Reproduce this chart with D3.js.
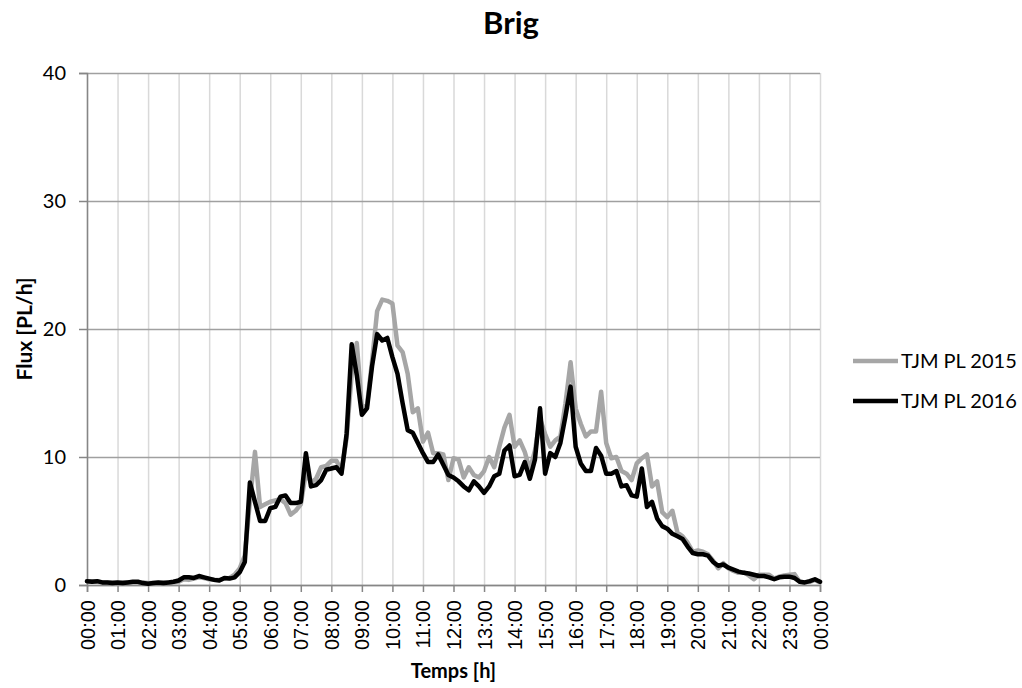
<!DOCTYPE html>
<html>
<head>
<meta charset="utf-8">
<script src="https://cdn.jsdelivr.net/npm/d3@7"></script>
<style>
  html, body { margin: 0; padding: 0; background: #fff; }
  svg { display: block; }
</style>
</head>
<body>
<svg id="chart" width="1022" height="688"></svg>
<script>
// Heavy-goods vehicle flow at Brig, average weekday, 10-minute steps from 00:00 to 24:00
const minutes = d3.range(0, 1441, 10);

const tjm2015 = [
  0.3, 0.3, 0.25, 0.2, 0.2, 0.2,
  0.15, 0.2, 0.2, 0.2, 0.2, 0.2,
  0.15, 0.15, 0.15, 0.2, 0.15, 0.2,
  0.25, 0.45, 0.4, 0.5, 0.6, 0.55,
  0.45, 0.4, 0.4, 0.5, 0.55, 0.8,
  1.3, 2.3, 6.5, 10.4, 6.1, 6.3,
  6.5, 6.6, 6.7, 6.4, 5.5, 5.8,
  6.3, 8.8, 8.0, 8.3, 9.2, 9.3,
  9.7, 9.7, 8.9, 11.5, 16.5, 18.9,
  13.9, 14.0, 17.5, 21.4, 22.3, 22.2,
  22.0, 18.7, 18.2, 16.5, 13.5, 13.8,
  11.2, 11.9, 10.3, 10.3, 10.2, 8.2,
  9.9, 9.8, 8.4, 9.2, 8.6, 8.4,
  8.9, 10.0, 9.2, 10.8, 12.3, 13.3,
  10.8, 11.3, 10.4, 9.0, 10.5, 13.0,
  11.8, 10.8, 11.3, 11.6, 14.2, 17.4,
  13.8, 12.6, 11.6, 12.0, 12.0, 15.1,
  11.1, 9.9, 10.0, 8.9, 8.7, 8.2,
  9.5, 9.9, 10.2, 7.7, 8.1, 5.7,
  5.3, 5.8, 4.1, 3.8, 3.3, 2.6,
  2.7, 2.6, 2.4, 1.9, 1.3, 1.7,
  1.3, 1.1, 0.95, 1.0, 0.75, 0.45,
  0.8, 0.8, 0.8, 0.5, 0.65, 0.75,
  0.8, 0.85, 0.25, 0.2, 0.25, 0.4,
  0.2
];

const tjm2016 = [
  0.3, 0.25, 0.3, 0.2, 0.2, 0.15,
  0.2, 0.15, 0.2, 0.25, 0.25, 0.15,
  0.1, 0.15, 0.2, 0.15, 0.2, 0.25,
  0.35, 0.6, 0.6, 0.55, 0.7, 0.6,
  0.5, 0.4, 0.35, 0.55, 0.5, 0.6,
  1.0, 1.8, 8.0, 6.5, 5.0, 5.0,
  6.0, 6.1, 6.9, 7.0, 6.4, 6.4,
  6.5, 10.3, 7.7, 7.8, 8.2, 9.0,
  9.1, 9.2, 8.7, 11.8, 18.8, 16.4,
  13.3, 13.8, 17.1, 19.6, 19.1, 19.3,
  17.8, 16.5, 14.2, 12.1, 11.9, 11.1,
  10.3, 9.6, 9.6, 10.2, 9.4, 8.6,
  8.4, 8.1, 7.7, 7.4, 8.1, 7.7,
  7.2, 7.7, 8.5, 8.7, 10.5, 10.9,
  8.5, 8.6, 9.6, 8.3, 9.8, 13.8,
  8.7, 10.3, 10.0, 11.1, 13.2, 15.5,
  10.8, 9.5, 8.9, 8.9, 10.7, 10.1,
  8.7, 8.7, 8.9, 7.7, 7.8, 7.0,
  6.9, 9.1, 6.1, 6.5, 5.2, 4.6,
  4.4, 4.0, 3.8, 3.6, 3.0, 2.5,
  2.4, 2.4, 2.3, 1.8, 1.5, 1.6,
  1.35, 1.2, 1.05, 0.95, 0.9, 0.8,
  0.7, 0.7, 0.6, 0.45, 0.6, 0.65,
  0.65, 0.55, 0.25, 0.2, 0.3, 0.45,
  0.25
];

const hourLabels = [
  "00:00", "01:00", "02:00", "03:00", "04:00", "05:00", "06:00", "07:00",
  "08:00", "09:00", "10:00", "11:00", "12:00", "13:00", "14:00", "15:00",
  "16:00", "17:00", "18:00", "19:00", "20:00", "21:00", "22:00", "23:00", "00:00"
];
const yTicks = [0, 10, 20, 30, 40];

const seriesNames = ["TJM PL 2015", "TJM PL 2016"];
const seriesColors = ["#a6a6a6", "#000000"];

const svg = d3.select("#chart");
const plot = { left: 87, right: 820, top: 73, bottom: 585 };

const x = d3.scaleLinear().domain([0, 1440]).range([plot.left, plot.right]);
const y = d3.scaleLinear().domain([0, 40]).range([plot.bottom, plot.top]);
const hourTicks = hourLabels.map((_, i) => i * 60);

const uiFont = "Lato, 'Open Sans', sans-serif";

// vertical hour grid
svg.append("g")
  .attr("transform", `translate(0,${plot.bottom})`)
  .call(d3.axisBottom(x).tickValues(hourTicks).tickSize(-(plot.bottom - plot.top)).tickFormat(""))
  .call(g => g.select(".domain").remove())
  .call(g => g.selectAll("line").attr("stroke", "#d9d9d9").attr("stroke-width", 1.5));

// horizontal value grid
svg.append("g")
  .attr("transform", `translate(${plot.left},0)`)
  .call(d3.axisLeft(y).tickValues(yTicks).tickSize(-(plot.right - plot.left)).tickFormat(""))
  .call(g => g.select(".domain").remove())
  .call(g => g.selectAll("line").attr("stroke", "#a0a0a0").attr("stroke-width", 1.5));

// x axis
const xAxis = svg.append("g")
  .attr("transform", `translate(0,${plot.bottom})`)
  .call(d3.axisBottom(x).tickValues(hourTicks).tickSize(7).tickPadding(0)
    .tickFormat((d, i) => hourLabels[i]));
xAxis.select(".domain").attr("stroke", "#868686").attr("stroke-width", 1.5);
xAxis.selectAll(".tick line").attr("stroke", "#868686").attr("stroke-width", 1.5);
xAxis.selectAll(".tick text")
  .attr("font-family", "'Liberation Sans', Arial, sans-serif")
  .attr("font-size", 20)
  .attr("fill", "#000")
  .attr("text-anchor", "end")
  .attr("transform", "rotate(-90)")
  .attr("x", -15)
  .attr("y", 0)
  .attr("dy", "0.35em");

// y axis
const yAxis = svg.append("g")
  .attr("transform", `translate(${plot.left},0)`)
  .call(d3.axisLeft(y).tickValues(yTicks).tickSize(8).tickPadding(13));
yAxis.select(".domain").attr("stroke", "#868686").attr("stroke-width", 1.5);
yAxis.selectAll(".tick line").attr("stroke", "#868686").attr("stroke-width", 1.5);
yAxis.selectAll(".tick text")
  .attr("font-family", uiFont)
  .attr("font-size", 20)
  .attr("fill", "#000");

// series lines
const line = d3.line()
  .x((d, i) => x(minutes[i]))
  .y(d => y(d));

[tjm2015, tjm2016].forEach((values, k) => {
  svg.append("path")
    .datum(values)
    .attr("fill", "none")
    .attr("stroke", seriesColors[k])
    .attr("stroke-width", 4.5)
    .attr("stroke-linejoin", "round")
    .attr("stroke-linecap", "round")
    .attr("d", line);
});

// title
svg.append("text")
  .attr("x", 511)
  .attr("y", 34)
  .attr("text-anchor", "middle")
  .attr("font-family", uiFont)
  .attr("font-weight", "bold")
  .attr("font-size", 31)
  .text("Brig");

// axis titles
svg.append("text")
  .attr("x", (plot.left + plot.right) / 2)
  .attr("y", 678)
  .attr("text-anchor", "middle")
  .attr("font-family", uiFont)
  .attr("font-weight", "bold")
  .attr("font-size", 20)
  .text("Temps [h]");

svg.append("text")
  .attr("transform", `translate(32,${(plot.top + plot.bottom) / 2}) rotate(-90)`)
  .attr("text-anchor", "middle")
  .attr("font-family", uiFont)
  .attr("font-weight", "bold")
  .attr("font-size", 21)
  .text("Flux [PL/h]");

// legend
const legend = svg.append("g");
seriesNames.forEach((name, k) => {
  const ly = 361 + k * 40;
  legend.append("line")
    .attr("x1", 853).attr("x2", 898)
    .attr("y1", ly).attr("y2", ly)
    .attr("stroke", seriesColors[k])
    .attr("stroke-width", 4.5);
  legend.append("text")
    .attr("x", 901)
    .attr("y", ly)
    .attr("dy", "0.35em")
    .attr("font-family", uiFont)
    .attr("font-size", 20)
    .attr("fill", "#000")
    .text(name);
});
</script>
</body>
</html>
